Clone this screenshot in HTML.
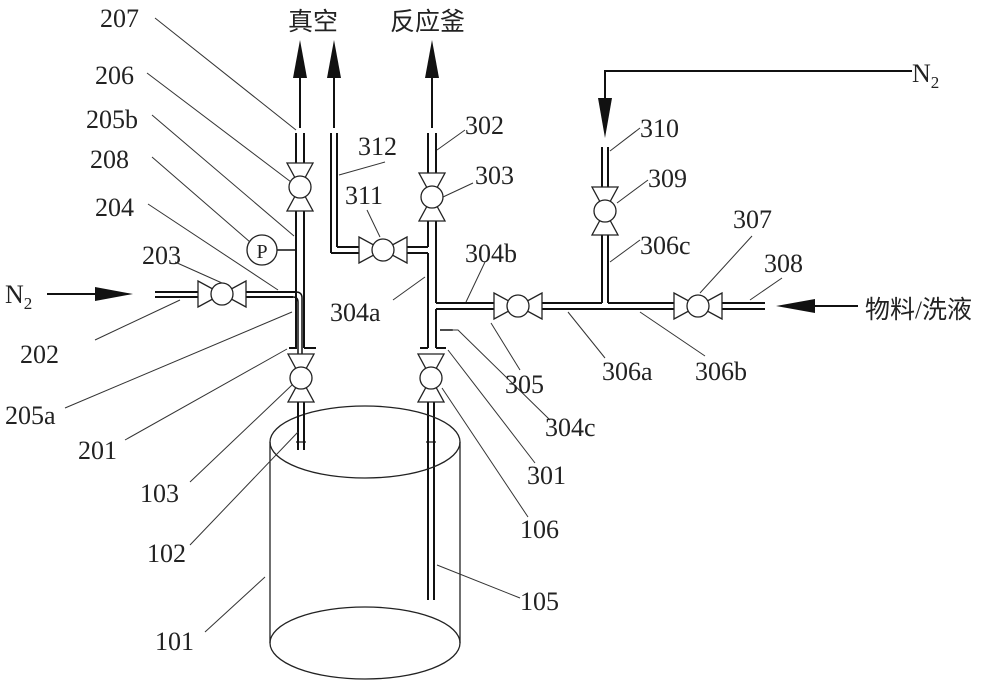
<!DOCTYPE html>
<html><head><meta charset="utf-8"><style>
html,body{margin:0;padding:0;background:#fff;}
svg{display:block;}
text{font-family:"Liberation Serif","Noto Serif CJK SC",serif;font-size:26px;fill:#222;}
.cj{font-family:"Liberation Serif","Noto Sans CJK SC",sans-serif;font-size:25px;}
</style></head><body>
<svg width="1000" height="687" viewBox="0 0 1000 687" xmlns="http://www.w3.org/2000/svg">
<defs>
<g id="vv" stroke="#222" stroke-width="1.3" fill="#fff">
<polygon points="-13,-24 13,-24 0,0"/><polygon points="-13,24 13,24 0,0"/><circle r="11"/>
</g>
<g id="hv" stroke="#222" stroke-width="1.3" fill="#fff">
<polygon points="-24,-13 -24,13 0,0"/><polygon points="24,-13 24,13 0,0"/><circle r="11"/>
</g>
</defs>
<g stroke="#111" stroke-width="2" fill="none">
<line x1="296" y1="133" x2="296" y2="165"/><line x1="304" y1="133" x2="304" y2="165"/>
<line x1="296" y1="209" x2="296" y2="348"/><line x1="304" y1="209" x2="304" y2="348"/>
<line x1="289" y1="348" x2="297" y2="348"/><line x1="304" y1="348" x2="316" y2="348"/>
<line x1="155" y1="292" x2="198" y2="292"/><line x1="155" y1="297" x2="198" y2="297"/>
<line x1="246" y1="292" x2="296" y2="292"/><line x1="246" y1="297" x2="293" y2="297"/>
<path d="M296 292 Q302 292 302 298 L302 358" stroke-width="1.5"/>
<path d="M293 297 Q298 297 298 302 L298 358" stroke-width="1.5"/>
<line x1="277" y1="250" x2="296" y2="250" stroke-width="1.5"/>
<line x1="298" y1="402" x2="298" y2="448"/><line x1="304" y1="402" x2="304" y2="448"/>
<line x1="296" y1="442" x2="306" y2="442" stroke-width="1.2"/>
<line x1="331" y1="133" x2="331" y2="253"/><line x1="337" y1="133" x2="337" y2="247"/>
<line x1="331" y1="253" x2="360" y2="253"/><line x1="337" y1="247" x2="360" y2="247"/>
<line x1="406" y1="247" x2="428" y2="247"/><line x1="406" y1="253" x2="428" y2="253"/>
<line x1="428" y1="133" x2="428" y2="173"/><line x1="436" y1="133" x2="436" y2="173"/>
<line x1="428" y1="221" x2="428" y2="247"/><line x1="436" y1="221" x2="436" y2="303"/>
<line x1="428" y1="253" x2="428" y2="348"/><line x1="436" y1="309" x2="436" y2="348"/>
<line x1="420" y1="348" x2="428" y2="348"/><line x1="436" y1="348" x2="446" y2="348"/>
<line x1="440" y1="330" x2="453" y2="330" stroke-width="1.5"/>
<line x1="428" y1="402" x2="428" y2="600"/><line x1="434" y1="402" x2="434" y2="600"/>
<line x1="426" y1="442" x2="436" y2="442" stroke-width="1.2"/>
<line x1="436" y1="303" x2="495" y2="303"/><line x1="436" y1="309" x2="495" y2="309"/>
<line x1="541" y1="303" x2="602" y2="303"/><line x1="541" y1="309" x2="675" y2="309"/>
<line x1="608" y1="303" x2="675" y2="303"/>
<line x1="721" y1="303" x2="765" y2="303"/><line x1="721" y1="309" x2="765" y2="309"/>
<line x1="602" y1="235" x2="602" y2="303"/><line x1="608" y1="235" x2="608" y2="303"/>
<line x1="602" y1="147" x2="602" y2="188"/><line x1="608" y1="147" x2="608" y2="188"/>
</g>
<use href="#vv" x="300" y="187"/>
<use href="#vv" x="301" y="378"/>
<use href="#vv" x="432" y="197"/>
<use href="#vv" x="431" y="378"/>
<use href="#vv" x="605" y="211"/>
<use href="#hv" x="222" y="294"/>
<use href="#hv" x="383" y="250"/>
<use href="#hv" x="518" y="306"/>
<use href="#hv" x="698" y="306"/>
<circle cx="262" cy="250" r="15" fill="#fff" stroke="#222" stroke-width="1.3"/>
<text x="262" y="258" text-anchor="middle" style="font-size:20px">P</text>
<g stroke="#222" stroke-width="1.3" fill="none">
<ellipse cx="365" cy="442" rx="95" ry="36"/>
<ellipse cx="365" cy="643" rx="95" ry="36"/>
<line x1="270" y1="442" x2="270" y2="643"/><line x1="460" y1="442" x2="460" y2="643"/>
</g>
<line x1="298" y1="410" x2="298" y2="450" stroke="#111" stroke-width="2"/><line x1="304" y1="410" x2="304" y2="450" stroke="#111" stroke-width="2"/>
<g stroke="#111" stroke-width="2">
<line x1="300" y1="128" x2="300" y2="70"/><line x1="334" y1="128" x2="334" y2="70"/><line x1="432" y1="128" x2="432" y2="70"/>
<polyline points="912,71 605,71 605,100" fill="none"/>
<line x1="47" y1="294" x2="100" y2="294"/>
<line x1="858" y1="306" x2="810" y2="306"/>
</g>
<g fill="#111">
<polygon points="300,40 293,78 307,78"/><polygon points="334,40 327,78 341,78"/><polygon points="432,40 425,78 439,78"/>
<polygon points="605,138 598,98 612,98"/>
<polygon points="133,294 95,287 95,301"/>
<polygon points="776,306 815,299 815,313"/>
</g>
<text class="cj" x="288" y="30">真空</text>
<text class="cj" x="390" y="30">反应釜</text>
<text class="cj" x="865" y="318">物料/洗液</text>
<text x="5" y="303">N<tspan dy="6" style="font-size:17px">2</tspan></text>
<text x="912" y="82">N<tspan dy="6" style="font-size:17px">2</tspan></text>
<g stroke="#333" stroke-width="1" fill="none">
<line x1="155" y1="18" x2="296" y2="130"/>
<line x1="147" y1="73" x2="291" y2="182"/>
<line x1="152" y1="115" x2="294" y2="236"/>
<line x1="152" y1="157" x2="250" y2="242"/>
<line x1="148" y1="204" x2="278" y2="290"/>
<line x1="175" y1="262" x2="222" y2="283"/>
<line x1="95" y1="340" x2="180" y2="300"/>
<line x1="65" y1="408" x2="292" y2="312"/>
<line x1="125" y1="440" x2="287" y2="349"/>
<line x1="190" y1="482" x2="292" y2="385"/>
<line x1="190" y1="545" x2="298" y2="432"/>
<line x1="205" y1="632" x2="265" y2="577"/>
<line x1="520" y1="598" x2="437" y2="565"/>
<line x1="528" y1="517" x2="442" y2="388"/>
<line x1="535" y1="463" x2="448" y2="350"/>
<polyline points="550,420 458,330 452,330"/>
<line x1="520" y1="370" x2="491" y2="323"/>
<line x1="605" y1="358" x2="568" y2="312"/>
<line x1="705" y1="356" x2="640" y2="312"/>
<line x1="393" y1="300" x2="425" y2="277"/>
<line x1="485" y1="262" x2="466" y2="302"/>
<line x1="752" y1="236" x2="700" y2="293"/>
<line x1="782" y1="278" x2="750" y2="300"/>
<line x1="640" y1="240" x2="610" y2="262"/>
<line x1="648" y1="180" x2="617" y2="203"/>
<line x1="640" y1="128" x2="610" y2="151"/>
<line x1="473" y1="183" x2="443" y2="197"/>
<line x1="465" y1="130" x2="437" y2="150"/>
<line x1="367" y1="210" x2="380" y2="237"/>
<line x1="385" y1="162" x2="339" y2="175"/>
</g>
<text x="100" y="27">207</text>
<text x="95" y="84">206</text>
<text x="86" y="128">205b</text>
<text x="90" y="168">208</text>
<text x="95" y="216">204</text>
<text x="142" y="264">203</text>
<text x="20" y="363">202</text>
<text x="5" y="424">205a</text>
<text x="78" y="459">201</text>
<text x="140" y="502">103</text>
<text x="147" y="562">102</text>
<text x="155" y="650">101</text>
<text x="520" y="610">105</text>
<text x="520" y="538">106</text>
<text x="527" y="484">301</text>
<text x="545" y="436">304c</text>
<text x="505" y="393">305</text>
<text x="602" y="380">306a</text>
<text x="695" y="380">306b</text>
<text x="330" y="321">304a</text>
<text x="465" y="262">304b</text>
<text x="733" y="228">307</text>
<text x="764" y="272">308</text>
<text x="640" y="254">306c</text>
<text x="648" y="187">309</text>
<text x="640" y="137">310</text>
<text x="475" y="184">303</text>
<text x="465" y="134">302</text>
<text x="345" y="204">311</text>
<text x="358" y="155">312</text>
</svg>
</body></html>
